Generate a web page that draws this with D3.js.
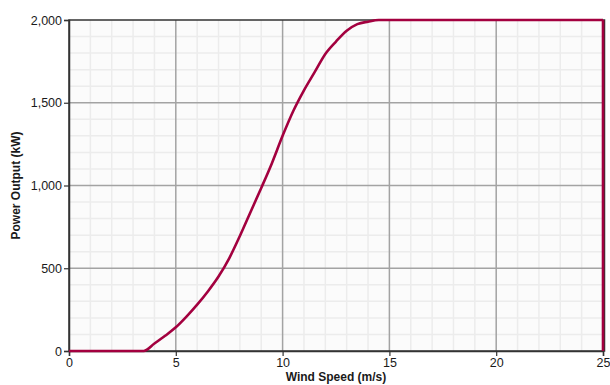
<!DOCTYPE html>
<html><head><meta charset="utf-8">
<script src="https://cdn.jsdelivr.net/npm/d3@7/dist/d3.min.js"></script>
<style>
body{margin:0;background:#fff;}
svg{display:block;font-family:"Liberation Sans",Arial,sans-serif;}
</style></head>
<body>
<script>
const windSpeed = [0,0.5,1,1.5,2,2.5,3,3.5,4,4.5,5,5.5,6,6.5,7,7.5,8,8.5,9,9.5,10,10.5,11,11.5,12,12.5,13,13.5,14,14.5,15,16,17,18,19,20,21,22,23,24,25,25];
const powerOutput = [0,0,0,0,0,0,0,0,45,92,143,208,280,360,450,560,695,840,985,1135,1300,1450,1575,1685,1795,1870,1935,1975,1990,2000,2000,2000,2000,2000,2000,2000,2000,2000,2000,2000,2000,0];
const xTicks = [0,5,10,15,20,25];
const yTicks = [0,500,1000,1500,2000];
const xLabel = "Wind Speed (m/s)";
const yLabel = "Power Output (kW)";

const W=610,H=385;
const m={l:69,r:7,t:20,b:34};
const svg=d3.select("body").append("svg").attr("width",W).attr("height",H);
const x=d3.scaleLinear().domain([0,25]).range([m.l,W-m.r]);
const y=d3.scaleLinear().domain([0,2000]).range([H-m.b,m.t]);

svg.append("rect").attr("x",x(0)).attr("y",y(2000)).attr("width",x(25)-x(0)).attr("height",y(0)-y(2000)).attr("fill","#fbfbfb");

const g=svg.append("g");
g.selectAll(".vmin").data(d3.range(1,25).filter(d=>d%5)).join("line")
 .attr("x1",d=>x(d)).attr("x2",d=>x(d)).attr("y1",y(0)).attr("y2",y(2000))
 .attr("stroke","#ececec").attr("stroke-width",1.5);
g.selectAll(".hmin").data(d3.range(100,2000,100).filter(d=>d%500)).join("line")
 .attr("y1",d=>y(d)).attr("y2",d=>y(d)).attr("x1",x(0)).attr("x2",x(25))
 .attr("stroke","#ececec").attr("stroke-width",1.5);
g.selectAll(".vmaj").data(xTicks.slice(1,-1)).join("line")
 .attr("x1",d=>x(d)).attr("x2",d=>x(d)).attr("y1",y(0)).attr("y2",y(2000))
 .attr("stroke","#a3a3a3").attr("stroke-width",1.5);
g.selectAll(".hmaj").data(yTicks.slice(1,-1)).join("line")
 .attr("y1",d=>y(d)).attr("y2",d=>y(d)).attr("x1",x(0)).attr("x2",x(25))
 .attr("stroke","#a3a3a3").attr("stroke-width",1.5);

svg.append("rect").attr("x",x(0)).attr("y",y(2000)).attr("width",x(25)-x(0)+1.5).attr("height",y(0)-y(2000))
 .attr("fill","none").attr("stroke","#333").attr("stroke-width",1.5);

const xa=svg.append("g").attr("transform",`translate(0,${y(0)})`)
 .call(d3.axisBottom(x).tickValues(xTicks).tickSize(5).tickFormat(d3.format("d")));
const ya=svg.append("g").attr("transform",`translate(${x(0)},0)`)
 .call(d3.axisLeft(y).tickValues(yTicks).tickSize(5).tickFormat(d3.format(",")));
[xa,ya].forEach(a=>{
  a.select(".domain").attr("stroke","#333").attr("stroke-width",1.5);
  a.selectAll(".tick line").attr("stroke","#333").attr("stroke-width",1.2);
  a.selectAll("text").attr("fill","#1a1a1a").style("font-size","12.5px").style("font-family","'Liberation Sans',Arial,sans-serif");
});
xa.selectAll("text").attr("dy","0.95em").attr("y",4);
ya.selectAll("text").attr("x",-7);

const pts=windSpeed.map((w,i)=>[w,powerOutput[i]]);
const n=pts.length;
const smooth=d3.line().x(d=>x(d[0])).y(d=>y(d[1])).curve(d3.curveMonotoneX);
const straight=d3.line().x(d=>x(d[0])).y(d=>y(d[1]));
const col="#a3003f";
svg.append("path").datum(pts.slice(0,n-1)).attr("d",smooth)
 .attr("fill","none").attr("stroke",col).attr("stroke-width",2.6).attr("stroke-linejoin","round");
svg.append("path").datum(pts.slice(n-2)).attr("d",straight)
 .attr("fill","none").attr("stroke",col).attr("stroke-width",2.6);

svg.append("text").attr("x",(x(0)+x(25))/2).attr("y",381).attr("text-anchor","middle")
 .style("font-size","12px").style("font-weight","bold").attr("fill","#1a1a1a").text(xLabel);
svg.append("text").attr("transform",`translate(20,${(y(0)+y(2000))/2}) rotate(-90)`).attr("text-anchor","middle")
 .style("font-size","12px").style("font-weight","bold").attr("fill","#1a1a1a").text(yLabel);
</script>
</body></html>
